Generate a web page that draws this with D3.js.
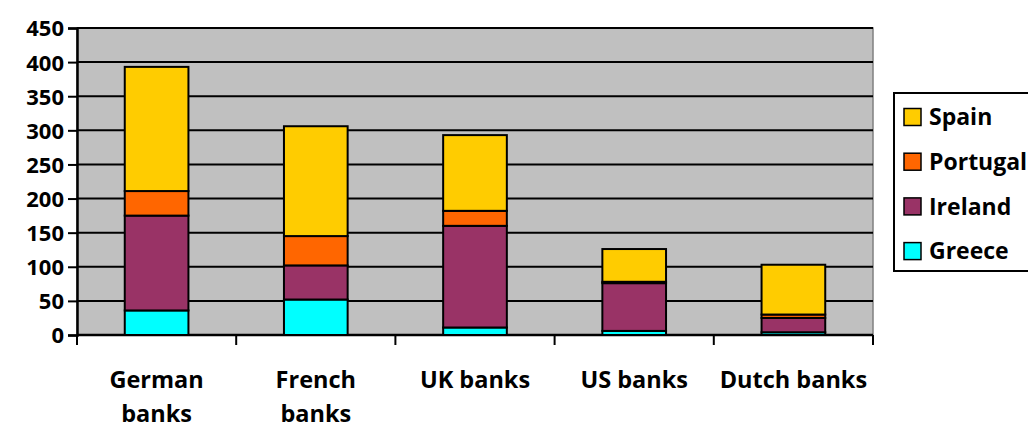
<!DOCTYPE html>
<html>
<head>
<meta charset="utf-8">
<script src="https://cdn.jsdelivr.net/npm/d3@7"></script>
<style>
  body { margin: 0; background: #fff; }
  text { font-family: "Open Sans", sans-serif; font-weight: 700; fill: #000; }
</style>
</head>
<body>
<div id="chart"></div>
<script>
// categories and series (stacked bottom to top)
var banks = ["German banks", "French banks", "UK banks", "US banks", "Dutch banks"];
var bankLines = [["German", "banks"], ["French", "banks"], ["UK banks"], ["US banks"], ["Dutch banks"]];
var greece = [36, 52, 11, 6, 4];
var ireland = [139, 50, 149, 70, 21];
var portugal = [36, 43, 22, 2, 5];
var spain = [182, 161, 111, 48, 73];
var seriesNames = ["Greece", "Ireland", "Portugal", "Spain"];
var seriesColors = ["#00FFFF", "#993366", "#FF6600", "#FFCC00"];
var yTicks = [0, 50, 100, 150, 200, 250, 300, 350, 400, 450];

var svgWidth = 1028;
var svgHeight = 428;
var margin = { top: 28, right: 155, bottom: 93, left: 77 };
var chartWidth = svgWidth - margin.left - margin.right;
var chartHeight = svgHeight - margin.top - margin.bottom;

var svg = d3.select("#chart").append("svg")
  .attr("width", svgWidth)
  .attr("height", svgHeight);

var chartGroup = svg.append("g")
  .attr("transform", `translate(${margin.left}, ${margin.top})`);

// build table for stacking
var table = banks.map(function(b, i) {
  return { bank: b, Greece: greece[i], Ireland: ireland[i], Portugal: portugal[i], Spain: spain[i] };
});
var stacked = d3.stack().keys(seriesNames)(table);

var xScale = d3.scaleBand().domain(banks).range([0, chartWidth]).paddingInner(0.6).paddingOuter(0.3);
var xEdges = d3.scaleLinear().domain([0, banks.length]).range([0, chartWidth]);
var yScale = d3.scaleLinear().domain([0, 450]).range([chartHeight, 0]);

// plot area
chartGroup.append("rect")
  .attr("width", chartWidth).attr("height", chartHeight)
  .attr("fill", "#C0C0C0")
  .attr("stroke", "#808080").attr("stroke-width", 1.5);

// gridlines
chartGroup.selectAll("line.grid")
  .data(yTicks.filter(d => d > 0))
  .enter().append("line")
  .attr("class", "grid")
  .attr("x1", 0).attr("x2", chartWidth)
  .attr("y1", d => yScale(d)).attr("y2", d => yScale(d))
  .attr("stroke", "#000").attr("stroke-width", 2);

// y axis
var yAxis = d3.axisLeft(yScale).tickValues(yTicks).tickSize(9).tickPadding(4);
var yG = chartGroup.append("g").call(yAxis);
yG.select(".domain").attr("stroke", "#000").attr("stroke-width", 2.5);
yG.selectAll(".tick line").attr("stroke", "#000").attr("stroke-width", 2);
yG.selectAll("text").style("font-size", "22px").attr("dy", "0.36em");

// x axis
var xG = chartGroup.append("g").attr("transform", `translate(0, ${chartHeight})`);
xG.append("line").attr("x1", 0).attr("x2", chartWidth)
  .attr("stroke", "#000").attr("stroke-width", 2.5);
xG.selectAll("line.tick")
  .data(d3.range(banks.length + 1))
  .enter().append("line")
  .attr("class", "tick")
  .attr("x1", d => xEdges(d)).attr("x2", d => xEdges(d))
  .attr("y1", 0).attr("y2", 10)
  .attr("stroke", "#000").attr("stroke-width", 2);

xG.selectAll("text.cat")
  .data(bankLines)
  .enter().append("text")
  .attr("class", "cat")
  .attr("text-anchor", "middle")
  .attr("x", (d, i) => xScale(banks[i]) + xScale.bandwidth() / 2)
  .attr("y", 53)
  .style("font-size", "23.5px")
  .each(function(d) {
    var t = d3.select(this);
    d.forEach(function(line, j) {
      t.append("tspan")
        .attr("x", t.attr("x"))
        .attr("dy", j === 0 ? 0 : 34)
        .text(line);
    });
  });

// bars
chartGroup.selectAll("g.series")
  .data(stacked)
  .enter().append("g")
  .attr("class", "series")
  .attr("fill", (d, i) => seriesColors[i])
  .selectAll("rect")
  .data(d => d)
  .enter().append("rect")
  .attr("x", d => xScale(d.data.bank))
  .attr("width", xScale.bandwidth())
  .attr("y", d => yScale(d[1]))
  .attr("height", d => yScale(d[0]) - yScale(d[1]))
  .attr("stroke", "#000").attr("stroke-width", 2);

// legend
var legend = svg.append("g").attr("transform", "translate(894, 93)");
legend.append("rect")
  .attr("width", 145).attr("height", 178)
  .attr("fill", "#fff").attr("stroke", "#000").attr("stroke-width", 2);

var legendOrder = [3, 2, 1, 0];
var items = legend.selectAll("g.item")
  .data(legendOrder)
  .enter().append("g")
  .attr("class", "item")
  .attr("transform", (d, i) => `translate(10, ${24 + i * 44.7})`);
items.append("rect")
  .attr("x", 0).attr("y", -8.5).attr("width", 17).attr("height", 17)
  .attr("fill", d => seriesColors[d])
  .attr("stroke", "#000").attr("stroke-width", 1.5);
items.append("text")
  .attr("x", 25).attr("dy", "0.36em")
  .style("font-size", "23px")
  .text(d => seriesNames[d]);
</script>
</body>
</html>
